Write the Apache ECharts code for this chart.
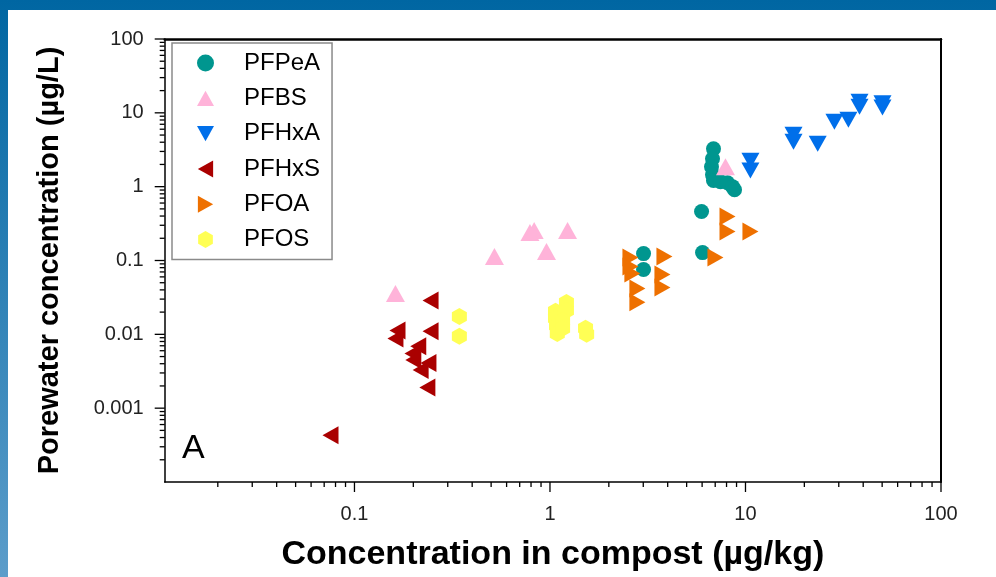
<!DOCTYPE html>
<html>
<head>
<meta charset="utf-8">
<script src="https://cdn.jsdelivr.net/npm/echarts@6/dist/echarts.min.js"></script>
<style>
  html, body { margin: 0; padding: 0; background: #fff; }
  #chart { width: 996px; height: 577px; }
</style>
</head>
<body>
<div id="chart"></div>
<script>
// values: [compost ug/kg, porewater ug/L]
const pfpea = [[6.86, 3.26], [6.78, 2.39], [6.70, 1.86], [6.78, 1.45], [6.86, 1.21], [7.45, 1.17],
               [8.09, 1.13], [8.58, 1.00], [8.79, 0.91], [5.96, 0.46], [6.03, 0.128], [3.01, 0.124], [3.01, 0.0755]];
const pfbs = [[0.162, 0.0358], [0.52, 0.113], [0.79, 0.24], [0.83, 0.255], [0.96, 0.132], [1.23, 0.254], [7.9, 1.86]];
const pfhxa = [[10.6, 2.25], [10.6, 1.65], [17.6, 5.04], [17.6, 4.06], [23.4, 3.81], [28.5, 7.56],
               [33.6, 8.05], [38.3, 14.1], [38.3, 12.1], [50.2, 13.5], [50.2, 11.8]];
const pfhxs = [[0.245, 0.0288], [0.166, 0.0113], [0.162, 0.0088], [0.245, 0.0110], [0.212, 0.0069],
               [0.198, 0.0055], [0.200, 0.0045], [0.239, 0.0041], [0.218, 0.0033], [0.236, 0.0019], [0.0754, 0.00043]];
const pfoa = [[2.58, 0.110], [2.58, 0.083], [2.64, 0.0668], [2.80, 0.0418], [2.80, 0.0271], [3.85, 0.113],
              [3.76, 0.0647], [3.76, 0.0432], [7.02, 0.110], [8.09, 0.393], [8.09, 0.247], [10.6, 0.247]];
const pfos = [[0.344, 0.0175], [0.344, 0.0094], [1.067, 0.0205], [1.067, 0.0165], [1.08, 0.0132], [1.09, 0.0103],
              [1.214, 0.027], [1.214, 0.0211], [1.16, 0.0154], [1.16, 0.0121], [1.52, 0.0121], [1.54, 0.0100]];

const seriesNames = ['PFPeA', 'PFBS', 'PFHxA', 'PFHxS', 'PFOA', 'PFOS'];
const seriesData = [pfpea, pfbs, pfhxa, pfhxs, pfoa, pfos];
const colors = ['#00968f', '#ffb3d9', '#006fea', '#aa0000', '#ee7000', '#ffff55'];

const xTickValues = [0.1, 1, 10, 100];
const xTickLabels = ['0.1', '1', '10', '100'];
const yTickValues = [0.001, 0.01, 0.1, 1, 10, 100];
const yTickLabels = ['0.001', '0.01', '0.1', '1', '10', '100'];
const xMinorTicks = [0.02, 0.03, 0.04, 0.05, 0.06, 0.07, 0.08, 0.09, 0.2, 0.3, 0.4, 0.5, 0.6, 0.7, 0.8, 0.9,
                     2, 3, 4, 5, 6, 7, 8, 9, 20, 30, 40, 50, 60, 70, 80, 90];
const yMinorTicks = [0.0002, 0.0003, 0.0004, 0.0005, 0.0006, 0.0007, 0.0008, 0.0009,
                     0.002, 0.003, 0.004, 0.005, 0.006, 0.007, 0.008, 0.009,
                     0.02, 0.03, 0.04, 0.05, 0.06, 0.07, 0.08, 0.09,
                     0.2, 0.3, 0.4, 0.5, 0.6, 0.7, 0.8, 0.9,
                     2, 3, 4, 5, 6, 7, 8, 9, 20, 30, 40, 50, 60, 70, 80, 90];

const xMin = 0.0107, xMax = 100, yMin = 0.0001, yMax = 100;
const font = '"Liberation Sans", Arial, sans-serif';

const symbols = [
  'circle',
  'path://M5,0L10,9L0,9Z',
  'path://M0,0L10,0L5,9Z',
  'path://M9,0L9,10L0,5Z',
  'path://M0,0L9,5L0,10Z',
  'path://M5,0L9.33,2.5L9.33,7.5L5,10L0.67,7.5L0.67,2.5Z'
];
const sizes = [15, [19, 17], [18, 16], [16, 18], [16, 18], [15, 17]];

function pickLabel(values, labels) {
  return function (v) {
    for (let i = 0; i < values.length; i++) {
      if (Math.abs(Math.log10(v) - Math.log10(values[i])) < 1e-6) return labels[i];
    }
    return '';
  };
}

function tickSeries(values, dir, len) {
  return {
    type: 'custom',
    silent: true,
    clip: false,
    z: 5,
    data: values.map(v => dir === 'x' ? [v, yMin] : [xMin, v]),
    renderItem: function (params, api) {
      const p = api.coord([api.value(0), api.value(1)]);
      const shape = dir === 'x'
        ? { x1: p[0], y1: p[1], x2: p[0], y2: p[1] + len }
        : { x1: p[0] - len, y1: p[1], x2: p[0], y2: p[1] };
      return { type: 'line', shape: shape, style: { stroke: '#000', lineWidth: 1.3 } };
    }
  };
}

const chart = echarts.init(document.getElementById('chart'));

const scatter = seriesNames.map((name, i) => ({
  name: name,
  type: 'scatter',
  data: seriesData[i],
  symbol: symbols[i],
  symbolSize: sizes[i],
  itemStyle: { color: colors[i], opacity: 1 },
  z: 3
}));

chart.setOption({
  animation: false,
  backgroundColor: new echarts.graphic.LinearGradient(0, 0, 0, 1, [
    { offset: 0, color: '#0066a2' },
    { offset: 1, color: '#5c9dca' }
  ]),
  graphic: [
    { type: 'rect', left: 8, top: 10, shape: { width: 988, height: 567 }, style: { fill: '#fff' }, z: -10 },
    { type: 'text', left: 182, top: 432, style: { text: 'A', font: '34px ' + font, fill: '#000' }, z: 10 }
  ],
  grid: { left: 164.7, right: 55, top: 39, bottom: 93 },
  legend: {
    orient: 'vertical',
    left: 172,
    top: 43,
    selectedMode: false,
    padding: [8, 12, 8, 25],
    itemGap: 11.3,
    itemWidth: 17,
    itemHeight: 17,
    borderColor: '#8a8a8a',
    borderWidth: 1.5,
    backgroundColor: '#fff',
    textStyle: { fontSize: 24, lineHeight: 24, color: '#000', fontFamily: font, padding: [0, 0, 0, 25] },
    data: seriesNames.map((n, i) => ({ name: n, icon: symbols[i], itemStyle: { color: colors[i] } }))
  },
  xAxis: [{
    type: 'log',
    min: xMin,
    max: xMax,
    name: 'Concentration in compost (µg/kg)',
    nameLocation: 'middle',
    nameGap: 56,
    nameTextStyle: { fontSize: 34, fontWeight: 'bold', color: '#000', fontFamily: font },
    axisLine: { lineStyle: { color: '#000', width: 1.5 } },
    axisTick: { show: false },
    splitLine: { show: false },
    axisLabel: { fontSize: 20, color: '#222', fontFamily: font, margin: 22, formatter: pickLabel(xTickValues, xTickLabels) }
  }, {
    type: 'log',
    min: xMin,
    max: xMax,
    position: 'top',
    axisLine: { lineStyle: { color: '#000', width: 2.5 } },
    axisTick: { show: false },
    axisLabel: { show: false },
    splitLine: { show: false }
  }],
  yAxis: [{
    type: 'log',
    min: yMin,
    max: yMax,
    name: 'Porewater concentration (µg/L)',
    nameLocation: 'middle',
    nameGap: 100,
    nameTextStyle: { fontSize: 29, fontWeight: 'bold', color: '#000', fontFamily: font },
    axisLine: { lineStyle: { color: '#000', width: 1.5 } },
    axisTick: { show: false },
    splitLine: { show: false },
    axisLabel: { fontSize: 20, color: '#222', fontFamily: font, margin: 21, formatter: pickLabel(yTickValues, yTickLabels) }
  }, {
    type: 'log',
    min: yMin,
    max: yMax,
    position: 'right',
    axisLine: { lineStyle: { color: '#000', width: 2 } },
    axisTick: { show: false },
    axisLabel: { show: false },
    splitLine: { show: false }
  }],
  series: scatter.concat([
    tickSeries(xTickValues, 'x', 10),
    tickSeries(xMinorTicks, 'x', 5),
    tickSeries(yTickValues, 'y', 10),
    tickSeries(yMinorTicks, 'y', 5)
  ])
});
</script>
</body>
</html>
